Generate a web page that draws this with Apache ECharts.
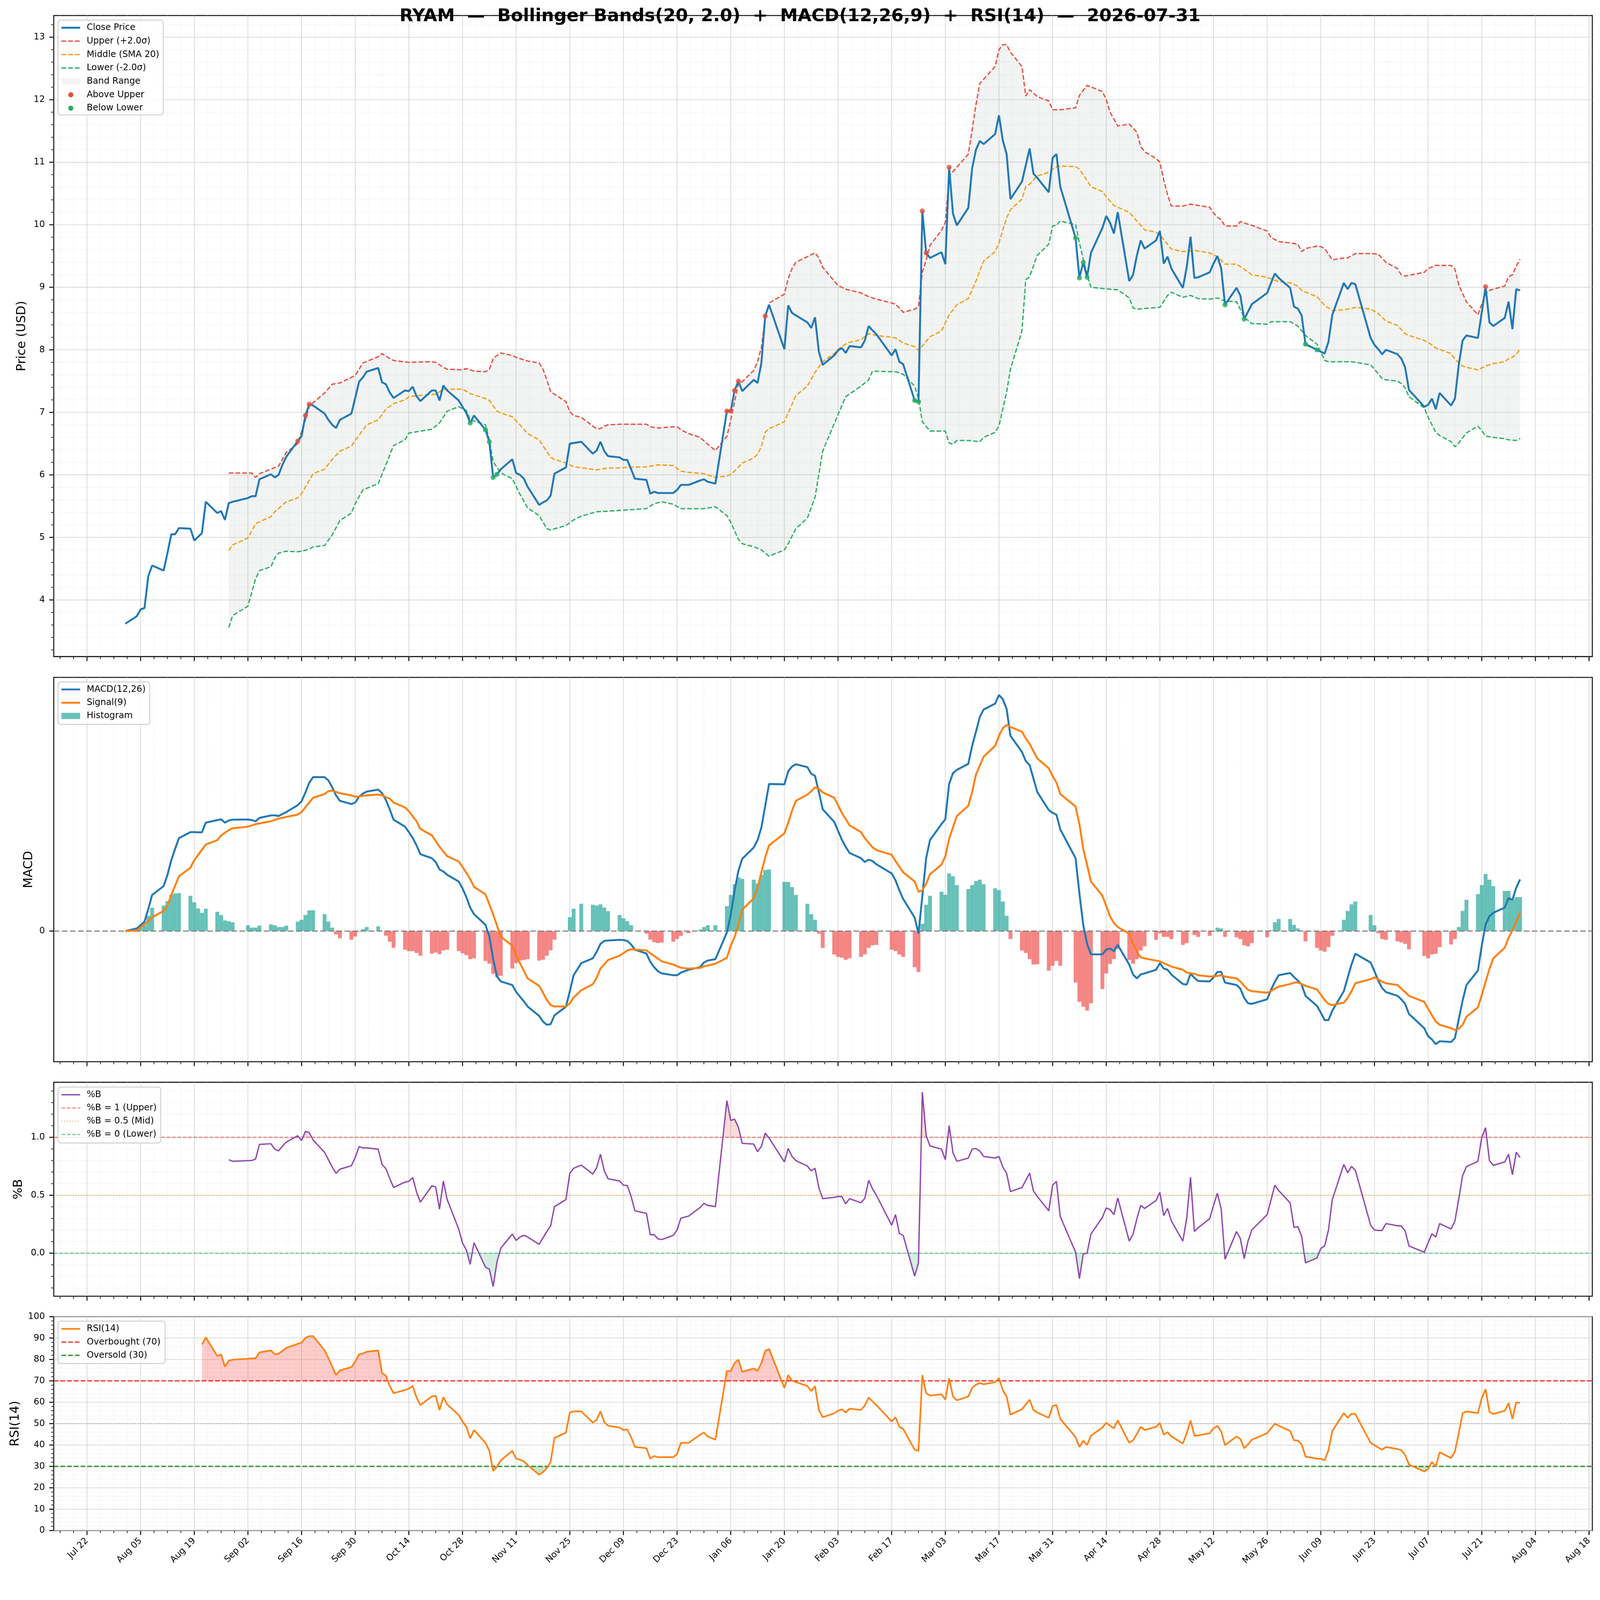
<!DOCTYPE html>
<html lang="en">
<head>
<meta charset="UTF-8">
<title>RYAM Bollinger Bands + MACD + RSI</title>
<script src="https://cdn.jsdelivr.net/npm/echarts@6.0.0/dist/echarts.min.js"></script>
<style>html,body{margin:0;padding:0;background:#fff;overflow:hidden}#main{width:4378px;height:4322px;transform-origin:0 0}</style>
</head>
<body>
<div id="main"></div>
<script>
// values as [MM-DD, value]; Aug-Dec = 2025, Jan-Jul = 2026
const closePrice = [
['08-01',3.62],['08-04',3.74],['08-05',3.85],['08-06',3.87],['08-07',4.38],['08-08',4.55],
['08-11',4.47],['08-12',4.75],['08-13',5.05],['08-14',5.05],['08-15',5.15],
['08-18',5.14],['08-19',4.95],['08-20',5.01],['08-21',5.07],['08-22',5.57],
['08-25',5.39],['08-26',5.42],['08-27',5.28],['08-28',5.55],['08-29',5.57],
['09-02',5.63],['09-03',5.66],['09-04',5.66],['09-05',5.93],
['09-08',6.01],['09-09',5.96],['09-10',6.00],['09-11',6.16],['09-12',6.29],
['09-15',6.54],['09-16',6.62],['09-17',6.95],['09-18',7.13],['09-19',7.11],
['09-22',6.98],['09-23',6.88],['09-24',6.80],['09-25',6.75],['09-26',6.88],
['09-29',6.98],['09-30',7.23],['10-01',7.49],['10-02',7.56],['10-03',7.65],
['10-06',7.71],['10-07',7.48],['10-08',7.45],['10-09',7.32],['10-10',7.23],
['10-13',7.35],['10-14',7.34],['10-15',7.41],['10-16',7.26],['10-17',7.18],
['10-20',7.35],['10-21',7.35],['10-22',7.19],['10-23',7.43],['10-24',7.35],
['10-27',7.19],['10-28',7.09],['10-29',6.99],['10-30',6.83],['10-31',6.95],
['11-03',6.72],['11-04',6.53],['11-05',5.96],['11-06',6.01],['11-07',6.09],
['11-10',6.25],['11-11',6.03],['11-12',6.00],['11-13',5.94],['11-14',5.81],
['11-17',5.52],['11-18',5.56],['11-19',5.59],['11-20',5.67],['11-21',6.02],
['11-24',6.12],['11-25',6.50],['11-26',6.51],['11-28',6.53],
['12-01',6.34],['12-02',6.39],['12-03',6.53],['12-04',6.38],['12-05',6.30],
['12-08',6.28],['12-09',6.24],['12-10',6.24],['12-11',6.09],['12-12',5.94],
['12-15',5.92],['12-16',5.70],['12-17',5.73],['12-18',5.71],['12-19',5.71],
['12-22',5.71],['12-23',5.76],['12-24',5.84],['12-26',5.84],
['12-29',5.91],['12-30',5.93],['12-31',5.89],['01-02',5.86],
['01-05',7.02],['01-06',7.02],['01-07',7.35],['01-08',7.50],['01-09',7.34],
['01-12',7.52],['01-13',7.47],['01-14',7.79],['01-15',8.54],['01-16',8.72],
['01-20',8.01],['01-21',8.71],['01-22',8.59],['01-23',8.55],
['01-26',8.44],['01-27',8.35],['01-28',8.52],['01-29',7.97],['01-30',7.76],
['02-02',7.91],['02-03',7.99],['02-04',8.03],['02-05',7.95],['02-06',8.06],
['02-09',8.04],['02-10',8.15],['02-11',8.38],['02-12',8.31],['02-13',8.25],
['02-17',7.91],['02-18',8.01],['02-19',7.81],['02-20',7.77],
['02-23',7.19],['02-24',7.17],['02-25',10.22],['02-26',9.55],['02-27',9.47],
['03-02',9.56],['03-03',9.37],['03-04',10.92],['03-05',10.18],['03-06',9.99],
['03-09',10.27],['03-10',10.90],['03-11',11.20],['03-12',11.34],['03-13',11.29],
['03-16',11.45],['03-17',11.75],['03-18',11.35],['03-19',11.13],['03-20',10.41],
['03-23',10.69],['03-24',10.95],['03-25',11.22],['03-26',10.82],['03-27',10.75],
['03-30',10.52],['03-31',11.07],['04-01',11.13],['04-02',10.61],
['04-06',9.79],['04-07',9.15],['04-08',9.40],['04-09',9.16],['04-10',9.55],
['04-13',9.95],['04-14',10.14],['04-15',10.03],['04-16',9.86],['04-17',10.20],
['04-20',9.10],['04-21',9.20],['04-22',9.51],['04-23',9.75],['04-24',9.62],
['04-27',9.75],['04-28',9.90],['04-29',9.38],['04-30',9.49],['05-01',9.30],
['05-04',8.99],['05-05',9.32],['05-06',9.81],['05-07',9.15],['05-08',9.16],
['05-11',9.24],['05-12',9.38],['05-13',9.50],['05-14',9.30],['05-15',8.72],
['05-18',8.99],['05-19',8.87],['05-20',8.49],['05-21',8.61],['05-22',8.73],
['05-26',8.91],['05-27',9.07],['05-28',9.22],['05-29',9.15],
['06-01',8.99],['06-02',8.69],['06-03',8.66],['06-04',8.55],['06-05',8.09],
['06-08',8.00],['06-09',7.97],['06-10',7.94],['06-11',8.13],['06-12',8.56],
['06-15',9.07],['06-16',8.97],['06-17',9.07],['06-18',9.05],
['06-22',8.19],['06-23',8.08],['06-24',8.01],['06-25',7.93],['06-26',8.00],
['06-29',7.93],['06-30',7.86],['07-01',7.72],['07-02',7.36],
['07-06',7.09],['07-07',7.12],['07-08',7.22],['07-09',7.05],['07-10',7.31],
['07-13',7.11],['07-14',7.22],['07-15',7.76],['07-16',8.15],['07-17',8.23],
['07-20',8.19],['07-21',8.60],['07-22',9.01],['07-23',8.44],['07-24',8.38],
['07-27',8.51],['07-28',8.77],['07-29',8.33],['07-30',8.97],['07-31',8.95]
];
const upperBand = [
['08-28',6.03],['09-02',6.03],['09-03',6.03],['09-04',5.96],['09-05',6.02],['09-10',6.14],['09-12',6.36],['09-15',6.50],
['09-17',6.88],['09-18',7.10],['09-22',7.31],['09-24',7.45],['09-26',7.47],['09-30',7.59],['10-02',7.79],['10-06',7.89],
['10-07',7.94],['10-09',7.86],['10-10',7.83],['10-14',7.80],['10-20',7.81],['10-21',7.80],['10-23',7.72],['10-24',7.69],
['10-28',7.68],['10-29',7.70],['10-31',7.66],['11-03',7.65],['11-04',7.69],['11-05',7.86],['11-06',7.91],['11-07',7.95],
['11-10',7.91],['11-11',7.88],['11-13',7.84],['11-14',7.82],['11-17',7.79],['11-18',7.69],['11-19',7.52],['11-20',7.33],
['11-21',7.29],['11-24',7.17],['11-25',7.01],['11-26',6.95],['11-28',6.92],['12-01',6.78],['12-02',6.74],['12-03',6.74],
['12-04',6.78],['12-05',6.80],['12-08',6.81],['12-15',6.81],['12-16',6.77],['12-18',6.75],['12-22',6.77],['12-23',6.77],
['12-24',6.72],['12-26',6.66],['12-29',6.60],['12-31',6.49],['01-02',6.39],['01-05',6.62],['01-06',6.88],['01-08',7.46],
['01-09',7.49],['01-12',7.67],['01-13',7.81],['01-14',8.04],['01-15',8.52],['01-16',8.75],['01-20',8.89],['01-21',9.14],
['01-22',9.30],['01-23',9.40],['01-26',9.49],['01-28',9.55],['01-29',9.47],['01-30',9.32],['02-02',9.10],['02-03',9.03],
['02-05',8.97],['02-09',8.91],['02-11',8.85],['02-13',8.81],['02-17',8.75],['02-18',8.73],['02-19',8.67],['02-20',8.60],
['02-23',8.65],['02-24',8.69],['02-25',9.24],['02-26',9.44],['02-27',9.67],['03-02',9.91],['03-03',10.04],['03-04',10.78],
['03-06',10.92],['03-09',11.13],['03-10',11.52],['03-11',11.92],['03-12',12.26],['03-16',12.53],['03-17',12.80],['03-18',12.88],
['03-19',12.88],['03-20',12.76],['03-23',12.53],['03-24',12.06],['03-25',12.16],['03-27',12.05],['03-30',11.98],['03-31',11.84],
['04-02',11.84],['04-06',11.87],['04-07',12.07],['04-09',12.23],['04-13',12.13],['04-14',12.00],['04-15',11.80],['04-17',11.58],
['04-20',11.61],['04-22',11.48],['04-23',11.25],['04-24',11.17],['04-27',11.06],['04-28',11.00],['04-29',10.72],['04-30',10.48],
['05-01',10.30],['05-04',10.30],['05-06',10.33],['05-08',10.31],['05-11',10.28],['05-12',10.19],['05-13',10.12],['05-14',10.08],
['05-15',9.98],['05-18',9.98],['05-19',10.05],['05-20',10.03],['05-22',9.99],['05-26',9.90],['05-27',9.80],['05-29',9.73],
['06-01',9.71],['06-03',9.69],['06-04',9.57],['06-05',9.62],['06-08',9.66],['06-09',9.65],['06-10',9.62],['06-12',9.44],
['06-15',9.47],['06-16',9.47],['06-18',9.54],['06-22',9.54],['06-24',9.53],['06-26',9.40],['06-29',9.30],['06-30',9.20],
['07-01',9.18],['07-06',9.24],['07-07',9.30],['07-09',9.35],['07-13',9.35],['07-14',9.29],['07-15',9.04],['07-16',8.90],
['07-17',8.77],['07-20',8.56],['07-21',8.73],['07-22',8.90],['07-23',8.95],['07-24',8.97],['07-27',9.02],['07-28',9.17],
['07-29',9.20],['07-30',9.34],['07-31',9.45]
];
const middleBand = [
['08-28',4.79],['08-29',4.88],['09-02',4.99],['09-04',5.22],['09-05',5.25],['09-08',5.33],['09-09',5.41],['09-12',5.57],
['09-15',5.63],['09-16',5.70],['09-19',6.02],['09-22',6.09],['09-24',6.25],['09-26',6.38],['09-29',6.46],['09-30',6.55],
['10-03',6.80],['10-06',6.88],['10-08',7.05],['10-10',7.14],['10-13',7.20],['10-14',7.25],['10-17',7.27],['10-21',7.29],
['10-23',7.37],['10-28',7.37],['10-30',7.30],['11-03',7.22],['11-04',7.19],['11-06',7.02],['11-07',6.99],['11-10',6.93],
['11-12',6.80],['11-14',6.66],['11-17',6.56],['11-20',6.28],['11-21',6.25],['11-24',6.19],['11-25',6.16],['11-26',6.13],
['12-02',6.08],['12-05',6.11],['12-08',6.11],['12-10',6.12],['12-15',6.13],['12-18',6.16],['12-22',6.15],['12-24',6.06],
['12-26',6.04],['12-30',6.02],['01-02',5.96],['01-05',5.98],['01-06',6.01],['01-07',6.06],['01-09',6.19],['01-12',6.27],
['01-13',6.33],['01-14',6.45],['01-15',6.68],['01-16',6.74],['01-20',6.85],['01-21',6.99],['01-23',7.27],['01-26',7.42],
['01-28',7.64],['01-30',7.81],['02-02',7.94],['02-03',8.01],['02-05',8.09],['02-06',8.12],['02-09',8.16],['02-10',8.21],
['02-11',8.26],['02-13',8.23],['02-17',8.20],['02-18',8.19],['02-20',8.11],['02-23',8.05],['02-24',7.99],['02-25',8.06],
['02-27',8.21],['03-02',8.30],['03-04',8.56],['03-06',8.72],['03-09',8.82],['03-11',9.10],['03-13',9.42],['03-16',9.57],
['03-17',9.71],['03-19',10.11],['03-20',10.24],['03-23',10.41],['03-24',10.61],['03-25',10.65],['03-27',10.78],['03-30',10.84],
['04-01',10.93],['04-02',10.94],['04-06',10.93],['04-07',10.89],['04-08',10.80],['04-10',10.61],['04-13',10.53],['04-14',10.45],
['04-16',10.31],['04-17',10.28],['04-20',10.20],['04-22',10.06],['04-24',9.92],['04-27',9.88],['04-28',9.84],['05-01',9.61],
['05-04',9.57],['05-07',9.59],['05-11',9.55],['05-13',9.49],['05-15',9.37],['05-18',9.37],['05-20',9.29],['05-22',9.20],
['05-26',9.16],['05-29',9.09],['06-01',9.07],['06-03',9.02],['06-04',8.95],['06-08',8.85],['06-10',8.71],['06-12',8.63],
['06-15',8.64],['06-17',8.66],['06-18',8.68],['06-22',8.65],['06-24',8.58],['06-26',8.46],['06-29',8.39],['07-01',8.26],
['07-02',8.23],['07-06',8.15],['07-08',8.08],['07-09',8.03],['07-13',7.94],['07-14',7.85],['07-16',7.74],['07-17',7.72],
['07-20',7.68],['07-22',7.74],['07-24',7.78],['07-27',7.81],['07-28',7.86],['07-29',7.88],['07-30',7.93],['07-31',8.01]
];
const lowerBand = [
['08-28',3.56],['08-29',3.75],['09-02',3.90],['09-04',4.34],['09-05',4.47],['09-08',4.53],['09-09',4.67],['09-10',4.75],
['09-12',4.78],['09-15',4.77],['09-16',4.78],['09-18',4.81],['09-19',4.85],['09-22',4.87],['09-24',5.04],['09-26',5.27],
['09-29',5.39],['09-30',5.54],['10-02',5.76],['10-06',5.86],['10-08',6.16],['10-10',6.47],['10-13',6.56],['10-14',6.67],
['10-17',6.70],['10-20',6.73],['10-22',6.83],['10-24',7.02],['10-27',7.09],['10-29',7.03],['10-30',6.88],['11-03',6.80],
['11-04',6.56],['11-05',6.21],['11-07',6.03],['11-10',5.94],['11-12',5.69],['11-14',5.47],['11-17',5.35],['11-19',5.14],
['11-20',5.12],['11-24',5.19],['11-26',5.28],['11-28',5.34],['12-02',5.41],['12-05',5.42],['12-10',5.44],['12-15',5.46],
['12-17',5.54],['12-19',5.57],['12-22',5.53],['12-24',5.46],['12-30',5.46],['01-02',5.49],['01-05',5.35],['01-06',5.24],
['01-08',4.97],['01-09',4.90],['01-12',4.85],['01-14',4.80],['01-16',4.70],['01-20',4.80],['01-21',4.90],['01-23',5.14],
['01-26',5.31],['01-28',5.64],['01-30',6.38],['02-02',6.82],['02-05',7.25],['02-09',7.42],['02-11',7.52],['02-12',7.66],
['02-17',7.65],['02-18',7.65],['02-20',7.61],['02-23',7.42],['02-24',7.22],['02-25',6.85],['02-27',6.70],['03-03',6.70],
['03-04',6.51],['03-05',6.49],['03-06',6.55],['03-09',6.55],['03-12',6.53],['03-13',6.60],['03-16',6.68],['03-17',6.78],
['03-19',7.32],['03-20',7.69],['03-23',8.30],['03-24',9.12],['03-25',9.17],['03-27',9.51],['03-30',9.69],['03-31',9.98],
['04-01',9.99],['04-02',10.06],['04-06',10.00],['04-07',9.71],['04-08',9.45],['04-09',9.20],['04-10',9.00],['04-13',8.98],
['04-15',8.97],['04-17',8.96],['04-20',8.83],['04-21',8.67],['04-22',8.65],['04-28',8.68],['04-30',8.87],['05-01',8.92],
['05-04',8.84],['05-06',8.87],['05-08',8.82],['05-11',8.81],['05-13',8.83],['05-15',8.78],['05-18',8.77],['05-20',8.52],
['05-22',8.42],['05-26',8.41],['05-27',8.45],['06-01',8.45],['06-03',8.38],['06-05',8.23],['06-08',8.09],['06-10',7.83],
['06-11',7.81],['06-17',7.81],['06-22',7.76],['06-23',7.69],['06-25',7.54],['06-26',7.52],['06-29',7.50],['06-30',7.46],
['07-01',7.39],['07-02',7.25],['07-06',7.07],['07-07',6.92],['07-09',6.68],['07-10',6.63],['07-13',6.53],['07-14',6.45],
['07-15',6.51],['07-17',6.67],['07-20',6.78],['07-21',6.71],['07-22',6.62],['07-24',6.60],['07-27',6.58],['07-28',6.56],
['07-30',6.55],['07-31',6.58]
];
// days on which the close sits outside the bands (markers)
const aboveUpperDays = ['09-15','09-17','09-18','01-05','01-06','01-07','01-08','01-15','02-25','02-26','03-04','07-22'];
const belowLowerDays = ['10-30','11-03','11-04','11-05','11-06','02-23','02-24','04-06','04-07','04-08','04-09','05-15','05-20','06-05','06-08'];

const macdLine = [
['08-01',0],['08-04',0.013],['08-05',0.03],['08-06',0.047],['08-07',0.11],['08-08',0.18],
['08-11',0.224],['08-12',0.28],['08-13',0.353],['08-14',0.41],['08-15',0.463],
['08-18',0.493],['08-19',0.493],['08-20',0.492],['08-21',0.492],['08-22',0.54],
['08-25',0.553],['08-26',0.557],['08-27',0.54],['08-28',0.551],['08-29',0.555],
['09-02',0.556],['09-03',0.553],['09-04',0.547],['09-05',0.564],
['09-08',0.576],['09-09',0.577],['09-10',0.573],['09-11',0.583],['09-12',0.593],
['09-15',0.627],['09-16',0.647],['09-17',0.69],['09-18',0.739],['09-19',0.767],
['09-22',0.767],['09-23',0.751],['09-24',0.716],['09-25',0.676],['09-26',0.649],
['09-29',0.633],['09-30',0.64],['10-01',0.67],['10-02',0.685],['10-03',0.695],
['10-06',0.705],['10-07',0.687],['10-08',0.653],['10-09',0.607],['10-10',0.555],
['10-13',0.52],['10-14',0.493],['10-15',0.464],['10-16',0.427],['10-17',0.383],
['10-20',0.363],['10-21',0.344],['10-22',0.307],['10-23',0.297],['10-24',0.28],
['10-27',0.247],['10-28',0.213],['10-29',0.169],['10-30',0.117],['10-31',0.084],
['11-03',0.031],['11-04',-0.027],['11-05',-0.14],['11-06',-0.227],['11-07',-0.251],
['11-10',-0.269],['11-11',-0.303],['11-12',-0.327],['11-13',-0.35],['11-14',-0.376],
['11-17',-0.423],['11-18',-0.451],['11-19',-0.467],['11-20',-0.464],['11-21',-0.42],
['11-24',-0.377],['11-25',-0.30],['11-26',-0.22],['11-28',-0.16],
['12-01',-0.136],['12-02',-0.104],['12-03',-0.064],['12-04',-0.049],['12-05',-0.047],
['12-08',-0.044],['12-09',-0.045],['12-10',-0.049],['12-11',-0.067],['12-12',-0.093],
['12-15',-0.112],['12-16',-0.153],['12-17',-0.18],['12-18',-0.2],['12-19',-0.211],
['12-22',-0.22],['12-23',-0.22],['12-24',-0.207],['12-26',-0.193],
['12-29',-0.18],['12-30',-0.157],['12-31',-0.147],['01-02',-0.14],
['01-05',-0.007],['01-06',0.08],['01-07',0.20],['01-08',0.30],['01-09',0.36],
['01-12',0.416],['01-13',0.453],['01-14',0.516],['01-15',0.624],['01-16',0.733],
['01-20',0.731],['01-21',0.796],['01-22',0.82],['01-23',0.831],
['01-26',0.817],['01-27',0.784],['01-28',0.773],['01-29',0.693],['01-30',0.607],
['02-02',0.544],['02-03',0.50],['02-04',0.455],['02-05',0.42],['02-06',0.389],
['02-09',0.363],['02-10',0.344],['02-11',0.356],['02-12',0.349],['02-13',0.333],
['02-17',0.287],['02-18',0.253],['02-19',0.203],['02-20',0.16],
['02-23',0.067],['02-24',-0.013],['02-25',0.173],['02-26',0.363],['02-27',0.453],
['03-02',0.533],['03-03',0.557],['03-04',0.733],['03-05',0.787],['03-06',0.803],
['03-09',0.833],['03-10',0.923],['03-11',0.993],['03-12',1.067],['03-13',1.104],
['03-16',1.133],['03-17',1.176],['03-18',1.156],['03-19',1.107],['03-20',0.973],
['03-23',0.893],['03-24',0.847],['03-25',0.827],['03-26',0.76],['03-27',0.693],
['03-30',0.603],['03-31',0.589],['04-01',0.58],['04-02',0.507],
['04-06',0.363],['04-07',0.187],['04-08',0.03],['04-09',-0.064],['04-10',-0.116],
['04-13',-0.116],['04-14',-0.093],['04-15',-0.087],['04-16',-0.10],['04-17',-0.069],
['04-20',-0.167],['04-21',-0.217],['04-22',-0.236],['04-23',-0.216],['04-24',-0.211],
['04-27',-0.193],['04-28',-0.16],['04-29',-0.187],['04-30',-0.193],['05-01',-0.217],
['05-04',-0.264],['05-05',-0.267],['05-06',-0.213],['05-07',-0.233],['05-08',-0.249],
['05-11',-0.251],['05-12',-0.231],['05-13',-0.204],['05-14',-0.203],['05-15',-0.257],
['05-18',-0.269],['05-19',-0.287],['05-20',-0.333],['05-21',-0.36],['05-22',-0.363],
['05-26',-0.34],['05-27',-0.293],['05-28',-0.253],['05-29',-0.22],
['06-01',-0.209],['06-02',-0.229],['06-03',-0.247],['06-04',-0.267],['06-05',-0.323],
['06-08',-0.373],['06-09',-0.407],['06-10',-0.444],['06-11',-0.444],['06-12',-0.397],
['06-15',-0.30],['06-16',-0.233],['06-17',-0.167],['06-18',-0.113],
['06-22',-0.157],['06-23',-0.20],['06-24',-0.247],['06-25',-0.284],['06-26',-0.304],
['06-29',-0.323],['06-30',-0.34],['07-01',-0.363],['07-02',-0.413],
['07-06',-0.484],['07-07',-0.524],['07-08',-0.54],['07-09',-0.564],['07-10',-0.549],
['07-13',-0.553],['07-14',-0.533],['07-15',-0.44],['07-16',-0.347],['07-17',-0.269],
['07-20',-0.197],['07-21',-0.073],['07-22',0.033],['07-23',0.073],['07-24',0.091],
['07-27',0.117],['07-28',0.164],['07-29',0.156],['07-30',0.216],['07-31',0.257]
];
const signalLine = [
['08-01',0],['08-04',0.003],['08-06',0.033],['08-08',0.069],['08-11',0.10],['08-12',0.127],['08-13',0.18],['08-15',0.273],
['08-18',0.316],['08-19',0.353],['08-20',0.38],['08-22',0.431],['08-25',0.453],['08-26',0.476],['08-28',0.503],['08-29',0.512],
['09-02',0.52],['09-04',0.533],['09-08',0.547],['09-10',0.56],['09-12',0.569],['09-15',0.58],['09-16',0.593],['09-19',0.664],
['09-22',0.683],['09-23',0.697],['09-24',0.70],['09-26',0.687],['09-29',0.676],['09-30',0.669],['10-03',0.676],['10-06',0.68],
['10-07',0.677],['10-08',0.667],['10-09',0.66],['10-10',0.64],['10-13',0.616],['10-14',0.597],['10-16',0.547],['10-17',0.509],
['10-20',0.477],['10-22',0.42],['10-24',0.373],['10-27',0.347],['10-28',0.32],['10-30',0.26],['10-31',0.22],['11-03',0.183],
['11-04',0.133],['11-05',0.083],['11-07',-0.029],['11-10',-0.073],['11-11',-0.12],['11-12',-0.16],['11-14',-0.236],['11-17',-0.273],
['11-18',-0.307],['11-19',-0.344],['11-20',-0.369],['11-21',-0.376],['11-24',-0.376],['11-25',-0.36],['11-26',-0.331],['11-28',-0.295],
['12-01',-0.265],['12-02',-0.233],['12-03',-0.187],['12-05',-0.144],['12-08',-0.123],['12-10',-0.097],['12-11',-0.091],['12-15',-0.096],
['12-16',-0.111],['12-18',-0.137],['12-19',-0.151],['12-22',-0.167],['12-24',-0.183],['12-26',-0.187],['12-29',-0.184],['12-30',-0.176],
['01-02',-0.163],['01-05',-0.133],['01-06',-0.073],['01-07',-0.03],['01-08',0.033],['01-09',0.107],['01-12',0.163],['01-13',0.216],
['01-14',0.293],['01-15',0.367],['01-16',0.427],['01-20',0.487],['01-21',0.54],['01-22',0.60],['01-23',0.649],['01-26',0.68],
['01-27',0.697],['01-28',0.716],['01-29',0.709],['01-30',0.691],['02-02',0.664],['02-03',0.627],['02-04',0.589],['02-06',0.527],
['02-09',0.493],['02-10',0.463],['02-12',0.417],['02-13',0.404],['02-17',0.38],['02-18',0.349],['02-20',0.293],['02-23',0.247],
['02-24',0.196],['02-25',0.203],['02-26',0.236],['02-27',0.283],['03-02',0.331],['03-03',0.373],['03-04',0.46],['03-06',0.573],
['03-09',0.624],['03-10',0.693],['03-11',0.78],['03-13',0.869],['03-16',0.923],['03-17',0.973],['03-18',1.011],['03-19',1.027],
['03-20',1.017],['03-23',0.993],['03-24',0.96],['03-25',0.933],['03-27',0.86],['03-30',0.811],['03-31',0.773],['04-01',0.74],
['04-02',0.683],['04-06',0.62],['04-07',0.533],['04-08',0.41],['04-09',0.33],['04-10',0.247],['04-13',0.176],['04-14',0.125],
['04-15',0.073],['04-16',0.04],['04-17',0.02],['04-20',-0.013],['04-21',-0.064],['04-22',-0.104],['04-23',-0.131],['04-24',-0.136],
['04-28',-0.151],['04-29',-0.16],['05-01',-0.177],['05-04',-0.193],['05-05',-0.207],['05-07',-0.213],['05-08',-0.22],['05-11',-0.227],
['05-13',-0.224],['05-14',-0.22],['05-15',-0.227],['05-18',-0.236],['05-19',-0.251],['05-20',-0.273],['05-21',-0.293],['05-22',-0.30],
['05-26',-0.307],['05-27',-0.30],['05-28',-0.287],['05-29',-0.277],['06-01',-0.264],['06-02',-0.257],['06-03',-0.256],['06-04',-0.264],
['06-05',-0.273],['06-08',-0.291],['06-09',-0.317],['06-10',-0.344],['06-11',-0.363],['06-12',-0.369],['06-15',-0.357],['06-16',-0.333],
['06-17',-0.30],['06-18',-0.26],['06-22',-0.24],['06-23',-0.231],['06-24',-0.24],['06-25',-0.253],['06-26',-0.26],['06-29',-0.269],
['06-30',-0.287],['07-01',-0.304],['07-02',-0.323],['07-06',-0.353],['07-07',-0.387],['07-08',-0.42],['07-09',-0.451],['07-10',-0.467],
['07-13',-0.484],['07-14',-0.493],['07-15',-0.487],['07-16',-0.467],['07-17',-0.427],['07-20',-0.38],['07-21',-0.32],['07-22',-0.253],
['07-23',-0.189],['07-24',-0.136],['07-27',-0.083],['07-28',-0.033],['07-29',0.003],['07-30',0.047],['07-31',0.091]
];
const histogram = [
['08-04',0.005],['08-05',0.015],['08-06',0.03],['08-07',0.076],['08-08',0.116],
['08-11',0.127],['08-12',0.149],['08-13',0.18],['08-14',0.187],['08-15',0.189],
['08-18',0.176],['08-19',0.143],['08-20',0.113],['08-21',0.091],['08-22',0.111],
['08-25',0.096],['08-26',0.08],['08-27',0.053],['08-28',0.049],['08-29',0.044],
['09-02',0.029],['09-03',0.017],['09-04',0.017],['09-05',0.027],
['09-08',0.033],['09-09',0.029],['09-10',0.02],['09-11',0.02],['09-12',0.027],
['09-15',0.047],['09-16',0.056],['09-17',0.08],['09-18',0.103],['09-19',0.104],
['09-22',0.084],['09-23',0.047],['09-24',0.017],['09-25',-0.017],['09-26',-0.036],
['09-29',-0.043],['09-30',-0.027],['10-01',-0.003],['10-02',0.009],['10-03',0.02],
['10-06',0.024],['10-07',0.0],['10-08',-0.023],['10-09',-0.053],['10-10',-0.083],
['10-13',-0.093],['10-14',-0.1],['10-15',-0.1],['10-16',-0.109],['10-17',-0.123],
['10-20',-0.113],['10-21',-0.107],['10-22',-0.115],['10-23',-0.097],['10-24',-0.093],
['10-27',-0.10],['10-28',-0.111],['10-29',-0.12],['10-30',-0.14],['10-31',-0.136],
['11-03',-0.149],['11-04',-0.163],['11-05',-0.213],['11-06',-0.229],['11-07',-0.223],
['11-10',-0.187],['11-11',-0.16],['11-12',-0.147],['11-13',-0.144],['11-14',-0.14],
['11-17',-0.147],['11-18',-0.143],['11-19',-0.123],['11-20',-0.096],['11-21',-0.043],
['11-24',0.0],['11-25',0.069],['11-26',0.111],['11-28',0.136],
['12-01',0.131],['12-02',0.127],['12-03',0.133],['12-04',0.117],['12-05',0.099],
['12-08',0.08],['12-09',0.063],['12-10',0.049],['12-11',0.029],['12-12',0.0],
['12-15',-0.013],['12-16',-0.043],['12-17',-0.056],['12-18',-0.06],['12-19',-0.057],
['12-22',-0.053],['12-23',-0.04],['12-24',-0.024],['12-26',-0.011],
['12-29',0.007],['12-30',0.02],['12-31',0.029],['01-02',0.029],
['01-05',0.124],['01-06',0.18],['01-07',0.233],['01-08',0.267],['01-09',0.26],
['01-12',0.256],['01-13',0.236],['01-14',0.28],['01-15',0.304],['01-16',0.307],
['01-20',0.245],['01-21',0.245],['01-22',0.219],['01-23',0.18],
['01-26',0.136],['01-27',0.084],['01-28',0.056],['01-29',-0.013],['01-30',-0.084],
['02-02',-0.117],['02-03',-0.129],['02-04',-0.133],['02-05',-0.143],['02-06',-0.136],
['02-09',-0.129],['02-10',-0.116],['02-11',-0.084],['02-12',-0.071],['02-13',-0.069],
['02-17',-0.093],['02-18',-0.10],['02-19',-0.117],['02-20',-0.129],
['02-23',-0.18],['02-24',-0.204],['02-25',0.036],['02-26',0.131],['02-27',0.176],
['03-02',0.196],['03-03',0.181],['03-04',0.287],['03-05',0.273],['03-06',0.229],
['03-09',0.209],['03-10',0.229],['03-11',0.249],['03-12',0.256],['03-13',0.233],
['03-16',0.213],['03-17',0.204],['03-18',0.147],['03-19',0.076],['03-20',-0.04],
['03-23',-0.097],['03-24',-0.109],['03-25',-0.14],['03-26',-0.167],['03-27',-0.165],
['03-30',-0.197],['03-31',-0.173],['04-01',-0.149],['04-02',-0.173],
['04-06',-0.256],['04-07',-0.353],['04-08',-0.377],['04-09',-0.396],['04-10',-0.36],
['04-13',-0.289],['04-14',-0.211],['04-15',-0.164],['04-16',-0.14],['04-17',-0.09],
['04-20',-0.144],['04-21',-0.163],['04-22',-0.14],['04-23',-0.097],['04-24',-0.076],
['04-27',-0.044],['04-28',-0.011],['04-29',-0.029],['04-30',-0.029],['05-01',-0.04],
['05-04',-0.069],['05-05',-0.06],['05-06',0.0],['05-07',-0.02],['05-08',-0.029],
['05-11',-0.024],['05-12',-0.003],['05-13',0.017],['05-14',0.013],['05-15',-0.029],
['05-18',-0.031],['05-19',-0.04],['05-20',-0.071],['05-21',-0.076],['05-22',-0.06],
['05-26',-0.031],['05-27',0.004],['05-28',0.044],['05-29',0.06],
['06-01',0.06],['06-02',0.031],['06-03',0.013],['06-04',0.0],['06-05',-0.051],
['06-08',-0.084],['06-09',-0.097],['06-10',-0.103],['06-11',-0.08],['06-12',-0.024],
['06-15',0.056],['06-16',0.1],['06-17',0.133],['06-18',0.147],
['06-22',0.08],['06-23',0.029],['06-24',-0.011],['06-25',-0.04],['06-26',-0.044],
['06-29',-0.051],['06-30',-0.056],['07-01',-0.064],['07-02',-0.091],
['07-06',-0.124],['07-07',-0.136],['07-08',-0.117],['07-09',-0.113],['07-10',-0.08],
['07-13',-0.067],['07-14',-0.04],['07-15',0.02],['07-16',0.1],['07-17',0.156],
['07-20',0.184],['07-21',0.229],['07-22',0.284],['07-23',0.256],['07-24',0.224],
['07-27',0.2],['07-28',0.2],['07-29',0.156],['07-30',0.169],['07-31',0.169]
];
const percentB = [
['08-28',0.807],['08-29',0.793],['09-02',0.799],['09-03',0.80],['09-04',0.813],['09-05',0.939],['09-08',0.945],['09-09',0.898],
['09-10',0.884],['09-11',0.923],['09-12',0.959],['09-15',1.014],['09-16',0.972],['09-17',1.052],['09-18',1.041],['09-19',0.978],
['09-22',0.87],['09-23',0.807],['09-24',0.744],['09-25',0.689],['09-26',0.725],['09-29',0.755],['09-30',0.826],['10-01',0.92],
['10-02',0.909],['10-03',0.909],['10-06',0.898],['10-07',0.766],['10-08',0.73],['10-09',0.647],['10-10',0.567],['10-13',0.614],
['10-14',0.62],['10-15',0.653],['10-16',0.529],['10-17',0.441],['10-20',0.581],['10-21',0.573],['10-22',0.38],['10-23',0.623],
['10-24',0.463],['10-27',0.209],['10-28',0.088],['10-29',0.028],['10-30',-0.096],['10-31',0.091],['11-03',-0.121],['11-04',-0.138],
['11-05',-0.287],['11-06',-0.074],['11-07',0.044],['11-10',0.165],['11-11',0.11],['11-12',0.14],['11-13',0.154],['11-14',0.14],
['11-17',0.077],['11-18',0.132],['11-19',0.187],['11-20',0.237],['11-21',0.402],['11-24',0.463],['11-25',0.689],['11-26',0.733],
['11-28',0.76],['12-01',0.683],['12-02',0.738],['12-03',0.854],['12-04',0.711],['12-05',0.642],['12-08',0.623],['12-09',0.587],
['12-10',0.584],['12-11',0.49],['12-12',0.366],['12-15',0.344],['12-16',0.16],['12-17',0.16],['12-18',0.124],['12-19',0.118],
['12-22',0.154],['12-23',0.201],['12-24',0.303],['12-26',0.32],['12-29',0.394],['12-30',0.43],['12-31',0.413],['01-02',0.402],
['01-05',1.317],['01-06',1.146],['01-07',1.157],['01-08',1.088],['01-09',0.948],['01-12',0.942],['01-13',0.876],['01-14',0.923],
['01-15',1.036],['01-16',0.994],['01-20',0.788],['01-21',0.904],['01-22',0.835],['01-23',0.799],['01-26',0.752],['01-27',0.711],
['01-28',0.733],['01-29',0.565],['01-30',0.471],['02-02',0.482],['02-03',0.49],['02-04',0.488],['02-05',0.427],['02-06',0.471],
['02-09',0.435],['02-10',0.474],['02-11',0.628],['02-12',0.556],['02-13',0.501],['02-17',0.242],['02-18',0.333],['02-19',0.171],
['02-20',0.154],['02-23',-0.198],['02-24',-0.083],['02-25',1.391],['02-26',1.014],['02-27',0.926],['03-02',0.898],['03-03',0.807],
['03-04',1.102],['03-05',0.868],['03-06',0.793],['03-09',0.821],['03-10',0.898],['03-11',0.904],['03-12',0.882],['03-13',0.835],
['03-16',0.821],['03-17',0.835],['03-18',0.744],['03-19',0.689],['03-20',0.532],['03-23',0.567],['03-24',0.628],['03-25',0.691],
['03-26',0.537],['03-27',0.49],['03-30',0.366],['03-31',0.587],['04-01',0.62],['04-02',0.317],['04-06',0.008],['04-07',-0.22],
['04-08',-0.006],['04-09',0.0],['04-10',0.165],['04-13',0.31],['04-14',0.391],['04-15',0.375],['04-16',0.333],['04-17',0.477],
['04-20',0.105],['04-21',0.165],['04-22',0.298],['04-23',0.413],['04-24',0.386],['04-27',0.455],['04-28',0.526],['04-29',0.325],
['04-30',0.386],['05-01',0.278],['05-04',0.105],['05-05',0.303],['05-06',0.656],['05-07',0.187],['05-08',0.22],['05-11',0.298],
['05-12',0.413],['05-13',0.518],['05-14',0.38],['05-15',-0.052],['05-18',0.187],['05-19',0.127],['05-20',-0.047],['05-21',0.105],
['05-22',0.201],['05-26',0.333],['05-27',0.46],['05-28',0.587],['05-29',0.54],['06-01',0.435],['06-02',0.223],['06-03',0.229],
['06-04',0.146],['06-05',-0.083],['06-08',-0.041],['06-09',0.041],['06-10',0.063],['06-11',0.201],['06-12',0.463],['06-15',0.766],
['06-16',0.694],['06-17',0.749],['06-18',0.716],['06-22',0.242],['06-23',0.201],['06-24',0.196],['06-25',0.196],['06-26',0.256],
['06-29',0.237],['06-30',0.234],['07-01',0.193],['07-02',0.063],['07-06',0.008],['07-07',0.09],['07-08',0.168],['07-09',0.14],
['07-10',0.256],['07-13',0.209],['07-14',0.278],['07-15',0.468],['07-16',0.669],['07-17',0.747],['07-20',0.793],['07-21',1.0],
['07-22',1.083],['07-23',0.799],['07-24',0.758],['07-27',0.788],['07-28',0.854],['07-29',0.678],['07-30',0.871],['07-31',0.826]
];
const rsi14 = [
['08-21',87.0],['08-22',90.3],['08-25',81.6],['08-26',82.4],['08-27',76.6],['08-28',79.4],['08-29',79.9],['09-02',80.3],
['09-03',80.5],['09-04',80.6],['09-05',83.3],['09-08',84.2],['09-09',82.4],['09-10',82.7],['09-11',84.0],['09-12',85.4],
['09-15',87.3],['09-16',87.9],['09-17',90.1],['09-18',90.9],['09-19',90.9],['09-22',84.3],['09-23',80.6],['09-24',76.6],
['09-25',72.7],['09-26',74.9],['09-29',76.4],['09-30',79.1],['10-01',82.4],['10-02',82.8],['10-03',83.6],['10-06',84.2],
['10-07',73.6],['10-08',72.4],['10-09',67.6],['10-10',64.2],['10-13',65.7],['10-14',66.4],['10-15',67.6],['10-16',62.2],
['10-17',58.7],['10-20',62.7],['10-21',63.0],['10-22',56.3],['10-23',62.4],['10-24',59.0],['10-27',54.0],['10-28',51.0],
['10-29',48.5],['10-30',43.1],['10-31',47.0],['11-03',41.0],['11-04',37.3],['11-05',27.9],['11-06',29.9],['11-07',32.8],
['11-10',37.3],['11-11',33.6],['11-12',33.1],['11-13',32.4],['11-14',30.6],['11-17',26.1],['11-18',27.3],['11-19',29.1],
['11-20',32.1],['11-21',43.3],['11-24',45.8],['11-25',55.2],['11-26',55.7],['11-28',55.7],['12-01',50.5],['12-02',51.8],
['12-03',55.7],['12-04',50.7],['12-05',49.0],['12-08',48.2],['12-09',47.0],['12-10',47.3],['12-11',43.7],['12-12',39.1],
['12-15',38.5],['12-16',33.6],['12-17',34.9],['12-18',34.3],['12-19',34.3],['12-22',34.3],['12-23',35.8],['12-24',41.0],
['12-26',41.0],['12-29',44.8],['12-30',45.8],['12-31',44.0],['01-02',42.5],['01-05',74.6],['01-06',74.6],['01-07',78.4],
['01-08',79.9],['01-09',74.2],['01-12',75.8],['01-13',74.6],['01-14',78.4],['01-15',84.0],['01-16',84.9],['01-20',66.7],
['01-21',72.7],['01-22',70.1],['01-23',69.4],['01-26',67.6],['01-27',65.2],['01-28',67.5],['01-29',56.3],['01-30',53.0],
['02-02',54.8],['02-03',56.0],['02-04',56.7],['02-05',55.2],['02-06',57.0],['02-09',56.4],['02-10',58.5],['02-11',62.2],
['02-12',60.4],['02-13',58.7],['02-17',51.0],['02-18',53.0],['02-19',48.5],['02-20',47.5],['02-23',37.8],['02-24',37.3],
['02-25',72.7],['02-26',64.2],['02-27',63.1],['03-02',63.7],['03-03',61.2],['03-04',71.2],['03-05',62.7],['03-06',60.9],
['03-09',62.7],['03-10',66.7],['03-11',68.2],['03-12',69.0],['03-13',68.4],['03-16',69.4],['03-17',71.2],['03-18',65.7],
['03-19',62.7],['03-20',54.2],['03-23',56.7],['03-24',59.0],['03-25',61.2],['03-26',56.3],['03-27',55.2],['03-30',52.7],
['03-31',58.2],['04-01',58.7],['04-02',52.2],['04-06',43.7],['04-07',39.1],['04-08',42.0],['04-09',40.0],['04-10',44.3],
['04-13',48.2],['04-14',50.4],['04-15',49.0],['04-16',47.8],['04-17',51.5],['04-20',41.0],['04-21',42.2],['04-22',45.2],
['04-23',48.5],['04-24',47.0],['04-27',48.5],['04-28',50.3],['04-29',44.8],['04-30',46.0],['05-01',44.0],['05-04',40.7],
['05-05',45.5],['05-06',51.5],['05-07',44.3],['05-08',44.5],['05-11',45.5],['05-12',47.8],['05-13',49.0],['05-14',46.3],
['05-15',39.9],['05-18',44.0],['05-19',42.8],['05-20',38.5],['05-21',40.3],['05-22',42.5],['05-26',45.5],['05-27',47.8],
['05-28',50.0],['05-29',49.0],['06-01',46.6],['06-02',42.2],['06-03',42.1],['06-04',40.3],['06-05',34.6],['06-08',33.6],
['06-09',33.6],['06-10',32.8],['06-11',37.6],['06-12',46.6],['06-15',54.9],['06-16',52.7],['06-17',54.6],['06-18',54.5],
['06-22',41.0],['06-23',39.9],['06-24',38.8],['06-25',37.8],['06-26',39.1],['06-29',38.1],['06-30',37.6],['07-01',35.4],
['07-02',30.9],['07-06',27.6],['07-07',28.8],['07-08',32.1],['07-09',29.9],['07-10',36.6],['07-13',33.9],['07-14',37.0],
['07-15',45.5],['07-16',54.8],['07-17',55.7],['07-20',54.9],['07-21',61.9],['07-22',66.1],['07-23',55.5],['07-24',54.5],
['07-27',56.0],['07-28',59.6],['07-29',52.2],['07-30',60.0],['07-31',59.7]
];
const percentBLevels = [1, 0.5, 0];
const rsiLevels = [70, 50, 30];
const monthNames = ['Jan','Feb','Mar','Apr','May','Jun','Jul','Aug','Sep','Oct','Nov','Dec'];

const FONT = 'DejaVu Sans';
const DAY = 86400000;
function ts(md) {
  const p = md.split('-'), m = +p[0], d = +p[1];
  return Date.UTC(m >= 8 ? 2025 : 2026, m - 1, d);
}
const toXY = arr => arr.map(r => [ts(r[0]), r[1]]);
function range(a, b, s) {
  const out = [];
  for (let i = 0; a + i * s <= b + 1e-9; i++) out.push(+(a + i * s).toFixed(6));
  return out;
}

// x axis (timestamps on a value axis): ticks every 14 days from Jul 22, minor every 3.5 days
const tick0 = Date.UTC(2025, 6, 22);
const xMin = tick0 - 8.68 * DAY;
const xMax = Date.UTC(2026, 7, 18) + 0.86 * DAY;
const xMajor = [], xMinor = [];
for (let k = -4; k <= 116; k++) {
  const t = tick0 + k * 3.5 * DAY;
  if (t < xMin || t > xMax) continue;
  (k % 4 === 0 ? xMajor : xMinor).push(t);
}
const fmtDate = v => {
  const d = new Date(v);
  return monthNames[d.getUTCMonth()] + ' ' + String(d.getUTCDate()).padStart(2, '0');
};

const notMult = s => v => Math.abs(v / s - Math.round(v / s)) > 1e-6;
const panels = [
  {top: 42.5, height: 1754.1, y: [3.094, 13.346], grid: true, labels: range(4, 13, 1),
   minor: range(3.2, 13.2, 0.2).filter(notMult(1)), fmt: v => String(Math.round(v)), name: 'Price (USD)', gap: 70},
  {top: 1853.5, height: 1051.5, y: [-0.651, 1.264], grid: false, labels: [0],
   minor: [], fmt: v => '0', name: 'MACD', gap: 48},
  {top: 2961.4, height: 585.3, y: [-0.371, 1.475], grid: true, labels: [0, 0.5, 1],
   minor: range(-0.3, 1.4, 0.1).filter(notMult(0.5)), fmt: v => (+v).toFixed(1), name: '%B', gap: 79},
  {top: 3602.7, height: 585.3, y: [0, 100], grid: true, labels: range(0, 100, 10),
   minor: range(2, 98, 2).filter(notMult(10)), fmt: v => String(Math.round(v)), name: 'RSI(14)', gap: 88}
];
const LEFT = 147, WIDTH = 4210;

const majorGrid = {stroke: '#cfcfcf', lineWidth: 1.6};
const minorGrid = {stroke: '#dcdcdc', lineWidth: 1.1, lineDash: [2, 3.5]};
const majorTick = {stroke: '#000', lineWidth: 2.6};
const minorTick = {stroke: '#000', lineWidth: 1.8};

function decor(i) {
  const P = panels[i];
  return {
    type: 'custom', xAxisIndex: i, yAxisIndex: i, silent: true, z: 0, clip: false,
    data: [[xMin, P.y[0]]],
    renderItem: function (params, api) {
      const cs = params.coordSys;
      const x0 = cs.x, y0 = cs.y, x1 = cs.x + cs.width, y1 = cs.y + cs.height;
      const kids = [];
      const ln = (a, b, c, d, s) => kids.push({type: 'line', shape: {x1: a, y1: b, x2: c, y2: d}, style: s});
      const X = t => api.coord([t, P.y[0]])[0];
      const Y = v => api.coord([xMin, v])[1];
      xMinor.forEach(t => { const x = X(t); ln(x, y0, x, y1, minorGrid); ln(x, y1, x, y1 + 6.9, minorTick); });
      xMajor.forEach(t => { const x = X(t); ln(x, y0, x, y1, majorGrid); ln(x, y1, x, y1 + 12.2, majorTick); });
      if (P.grid) {
        P.minor.forEach(v => ln(x0, Y(v), x1, Y(v), minorGrid));
        P.labels.forEach(v => ln(x0, Y(v), x1, Y(v), majorGrid));
      }
      P.minor.forEach(v => ln(x0 - 6.9, Y(v), x0, Y(v), minorTick));
      P.labels.forEach(v => ln(x0 - 12.2, Y(v), x0, Y(v), majorTick));
      return {type: 'group', children: kids};
    }
  };
}

// area between a series and a threshold, only where the series is beyond it
function thresholdFill(i, data, thr, above, color) {
  return {
    type: 'custom', xAxisIndex: i, yAxisIndex: i, silent: true, z: 1, clip: true,
    data: [[data[0][0], thr]],
    renderItem: function (params, api) {
      const p = data.map(d => api.coord(d));
      const yt = api.coord([data[0][0], thr])[1];
      const side = y => above ? y < yt : y > yt;
      const out = [];
      for (let k = 0; k < p.length; k++) {
        if (k > 0) {
          const a = p[k - 1], b = p[k];
          if (side(a[1]) !== side(b[1]) && a[1] !== b[1]) {
            const t = (yt - a[1]) / (b[1] - a[1]);
            if (t > 0 && t < 1) out.push([a[0] + t * (b[0] - a[0]), yt]);
          }
        }
        out.push([p[k][0], side(p[k][1]) ? p[k][1] : yt]);
      }
      out.push([p[p.length - 1][0], yt], [p[0][0], yt]);
      return {type: 'polygon', shape: {points: out}, style: {fill: color}};
    }
  };
}

function line(i, name, data, color, width, dash, z, opacity) {
  return {
    type: 'line', name: name, xAxisIndex: i, yAxisIndex: i, data: data,
    symbol: 'none', showSymbol: false, silent: true, z: z || 3,
    lineStyle: {color: color, width: width, type: dash || 'solid', opacity: opacity == null ? 1 : opacity},
    itemStyle: {color: color}
  };
}
const hline = v => [[xMin, v], [xMax, v]];

const closeXY = toXY(closePrice);
const upperXY = toXY(upperBand), middleXY = toXY(middleBand), lowerXY = toXY(lowerBand);
const closeByDay = Object.fromEntries(closePrice);
const histXY = toXY(histogram);
const pbXY = toXY(percentB), rsiXY = toXY(rsi14);

const DASH = [12.8, 5.6];
const THIN_DASH = [10.3, 4.4];
const DOT = [2.8, 4.6];

const series = [
  decor(0), decor(1), decor(2), decor(3),
  {
    type: 'custom', name: 'Band Range', xAxisIndex: 0, yAxisIndex: 0, silent: true, z: 1,
    data: [[upperXY[0][0], upperXY[0][1]]],
    renderItem: function (params, api) {
      const pts = upperXY.map(d => api.coord(d)).concat(lowerXY.slice().reverse().map(d => api.coord(d)));
      return {type: 'polygon', shape: {points: pts}, style: {fill: 'rgba(149,165,166,0.12)'}};
    }
  },
  line(0, 'Upper (+2.0σ)', upperXY, '#e74c3c', 3.5, DASH),
  line(0, 'Middle (SMA 20)', middleXY, '#f39c12', 3.5, DASH),
  line(0, 'Lower (-2.0σ)', lowerXY, '#27ae60', 3.5, DASH),
  line(0, 'Close Price', closeXY, '#1f77b4', 5.2, null, 4),
  {type: 'scatter', name: 'Above Upper', xAxisIndex: 0, yAxisIndex: 0, silent: true, z: 5, symbolSize: 14,
   data: aboveUpperDays.map(d => [ts(d), closeByDay[d]]), itemStyle: {color: '#e74c3c'}},
  {type: 'scatter', name: 'Below Lower', xAxisIndex: 0, yAxisIndex: 0, silent: true, z: 5, symbolSize: 14,
   data: belowLowerDays.map(d => [ts(d), closeByDay[d]]), itemStyle: {color: '#27ae60'}},

  {type: 'bar', name: 'Histogram', xAxisIndex: 1, yAxisIndex: 1, silent: true, z: 2, barWidth: 10.5, barGap: '-100%',
   data: histXY.filter(d => d[1] >= 0), itemStyle: {color: 'rgba(38,166,154,0.7)'}},
  {type: 'bar', name: 'Histogram (neg)', xAxisIndex: 1, yAxisIndex: 1, silent: true, z: 2, barWidth: 10.5, barGap: '-100%',
   data: histXY.filter(d => d[1] < 0), itemStyle: {color: 'rgba(239,83,80,0.7)'}},
  line(1, 'zero', hline(0), '#808080', 3.2, [15.4, 6.7], 3, 0.9),
  line(1, 'MACD(12,26)', toXY(macdLine), '#1f77b4', 5.2, null, 4),
  line(1, 'Signal(9)', toXY(signalLine), '#ff7f0e', 5.2, null, 4),

  thresholdFill(2, pbXY, 1, true, 'rgba(231,76,60,0.2)'),
  thresholdFill(2, pbXY, 0, false, 'rgba(39,174,96,0.2)'),
  line(2, '%B = 1 (Upper)', hline(percentBLevels[0]), '#e74c3c', 2.8, THIN_DASH, 3, 0.7),
  line(2, '%B = 0.5 (Mid)', hline(percentBLevels[1]), '#f39c12', 2.8, DOT, 3, 0.7),
  line(2, '%B = 0 (Lower)', hline(percentBLevels[2]), '#27ae60', 2.8, THIN_DASH, 3, 0.7),
  line(2, '%B', pbXY, '#8e44ad', 3.6, null, 4),

  thresholdFill(3, rsiXY, rsiLevels[0], true, 'rgba(255,0,0,0.2)'),
  thresholdFill(3, rsiXY, rsiLevels[2], false, 'rgba(0,128,0,0.2)'),
  line(3, 'Overbought (70)', hline(rsiLevels[0]), 'rgba(255,0,0,0.8)', 3.6, DASH),
  line(3, 'mid50', hline(rsiLevels[1]), 'rgba(128,128,128,0.5)', 2.8, DOT),
  line(3, 'Oversold (30)', hline(rsiLevels[2]), 'rgba(0,128,0,0.8)', 3.6, DASH),
  line(3, 'RSI(14)', rsiXY, '#ff7f0e', 4.4, null, 4)
];

// matplotlib-style legend boxes
function legendBox(x, y, w, h, rows) {
  const ch = [{type: 'rect', z: 50, shape: {x: 0, y: 0, width: w, height: h, r: 7},
               style: {fill: 'rgba(255,255,255,0.85)', stroke: '#cccccc', lineWidth: 2.4}}];
  rows.forEach(r => {
    const cy = r.y;
    if (r.kind === 'line') {
      ch.push({type: 'line', z: 51, shape: {x1: 9.5, y1: cy, x2: 60.5, y2: cy},
               style: {stroke: r.color, lineWidth: r.lw, lineDash: r.dash || null, opacity: r.op == null ? 1 : r.op}});
    } else if (r.kind === 'rect') {
      ch.push({type: 'rect', z: 51, shape: {x: 9.5, y: cy - 8.5, width: 51, height: 17}, style: {fill: r.color}});
    } else {
      ch.push({type: 'circle', z: 51, shape: {cx: 35, cy: cy, r: 7}, style: {fill: r.color}});
    }
    ch.push({type: 'text', z: 51, x: 78.5, y: cy,
             style: {text: r.label, font: '24.3px "' + FONT + '"', fill: '#000', verticalAlign: 'middle', align: 'left'}});
  });
  return {type: 'group', x: x, y: y, z: 50, children: ch};
}
const rowsAt = (y0, step, items) => items.map((it, k) => Object.assign({y: y0 + k * step}, it));

const graphics = [
  legendBox(158.7, 55, 288, 259.6, rowsAt(20.8, 36.7, [
    {label: 'Close Price', kind: 'line', color: '#1f77b4', lw: 5.2},
    {label: 'Upper (+2.0σ)', kind: 'line', color: '#e74c3c', lw: 3.5, dash: DASH},
    {label: 'Middle (SMA 20)', kind: 'line', color: '#f39c12', lw: 3.5, dash: DASH},
    {label: 'Lower (-2.0σ)', kind: 'line', color: '#27ae60', lw: 3.5, dash: DASH},
    {label: 'Band Range', kind: 'rect', color: 'rgba(149,165,166,0.12)'},
    {label: 'Above Upper', kind: 'dot', color: '#e74c3c'},
    {label: 'Below Lower', kind: 'dot', color: '#27ae60'}
  ])),
  legendBox(158.7, 1866, 251, 116, rowsAt(20.5, 36.3, [
    {label: 'MACD(12,26)', kind: 'line', color: '#1f77b4', lw: 5.2},
    {label: 'Signal(9)', kind: 'line', color: '#ff7f0e', lw: 5.2},
    {label: 'Histogram', kind: 'rect', color: 'rgba(38,166,154,0.7)'}
  ])),
  legendBox(158.7, 2974.5, 281, 153, rowsAt(21, 36.2, [
    {label: '%B', kind: 'line', color: '#8e44ad', lw: 3.6},
    {label: '%B = 1 (Upper)', kind: 'line', color: '#e74c3c', lw: 2.8, dash: THIN_DASH, op: 0.7},
    {label: '%B = 0.5 (Mid)', kind: 'line', color: '#f39c12', lw: 2.8, dash: DOT, op: 0.7},
    {label: '%B = 0 (Lower)', kind: 'line', color: '#27ae60', lw: 2.8, dash: THIN_DASH, op: 0.7}
  ])),
  legendBox(158.7, 3615, 293, 116, rowsAt(21, 36.3, [
    {label: 'RSI(14)', kind: 'line', color: '#ff7f0e', lw: 4.4},
    {label: 'Overbought (70)', kind: 'line', color: 'rgba(255,0,0,0.8)', lw: 3.6, dash: DASH},
    {label: 'Oversold (30)', kind: 'line', color: 'rgba(0,128,0,0.8)', lw: 3.6, dash: DASH}
  ]))
];

// the layout is in picture pixels; fit it to the actual viewport
const el = document.getElementById('main');
const fit = Math.min(window.innerWidth / 4378, window.innerHeight / 4322);
el.style.transform = 'scale(' + fit + ')';

const chart = echarts.init(el, null, {renderer: 'canvas', width: 4378, height: 4322});
chart.setOption({
  animation: false,
  backgroundColor: '#ffffff',
  title: {
    text: 'RYAM  —  Bollinger Bands(20, 2.0)  +  MACD(12,26,9)  +  RSI(14)  —  2026-07-31',
    left: 'center', top: 21, padding: 0,
    textStyle: {fontSize: 48.6, fontWeight: 'bold', color: '#000', fontFamily: FONT}
  },
  grid: panels.map(P => ({left: LEFT, top: P.top, width: WIDTH, height: P.height, show: true,
                          borderColor: '#000', borderWidth: 2.6, backgroundColor: 'transparent', containLabel: false})),
  xAxis: panels.map((P, i) => ({
    type: 'value', gridIndex: i, min: xMin, max: xMax, scale: true,
    axisLine: {show: false}, axisTick: {show: false}, splitLine: {show: false},
    axisLabel: {show: i === 3, customValues: xMajor, formatter: fmtDate, rotate: 45, margin: 24,
                fontSize: 24.3, color: '#000', fontFamily: FONT, hideOverlap: false}
  })),
  yAxis: panels.map((P, i) => ({
    type: 'value', gridIndex: i, min: P.y[0], max: P.y[1], scale: true,
    name: P.name, nameLocation: 'middle', nameRotate: 90, nameGap: P.gap,
    nameTextStyle: {fontSize: 34, color: '#000', fontFamily: FONT},
    axisLine: {show: false}, axisTick: {show: false}, splitLine: {show: false},
    axisLabel: {customValues: P.labels, formatter: P.fmt, margin: 24, fontSize: 24.3, color: '#000', fontFamily: FONT}
  })),
  graphic: graphics,
  series: series
});
</script>
</body>
</html>
